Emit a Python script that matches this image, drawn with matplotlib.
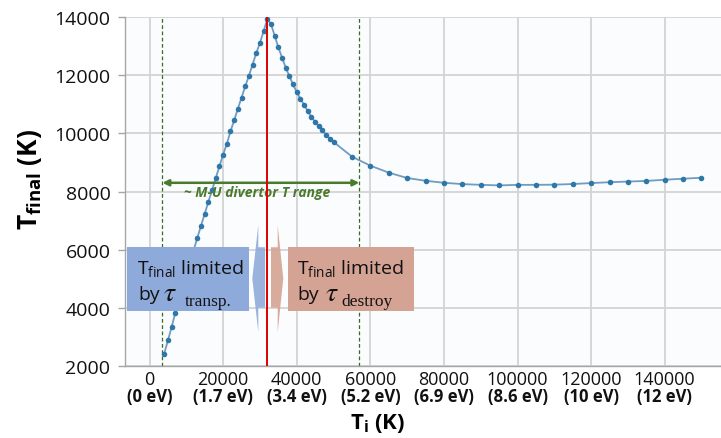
import matplotlib
matplotlib.use("Agg")
import matplotlib.pyplot as plt
from matplotlib.patches import Rectangle, Polygon
from matplotlib.transforms import blended_transform_factory

plt.rcParams["font.family"] = ["Open Sans", "DejaVu Sans"]
plt.rcParams["mathtext.fontset"] = "custom"
plt.rcParams["mathtext.rm"] = "Open Sans"
plt.rcParams["mathtext.it"] = "Open Sans:italic"
plt.rcParams["mathtext.bf"] = "Open Sans:bold"

# Initial ion temperature (K) and resulting final temperature (K)
ti_rise = [4000, 5000, 6000, 7000, 8000, 9000, 10000, 11000, 12000, 13000,
           14000, 15000, 16000, 17000, 18000, 19000, 20000, 21000, 22000,
           23000, 24000, 25000, 26000, 27000, 28000, 29000, 30000, 31000, 32000]
tf_rise = [2420, 2870, 3330, 3820, 4250, 4680, 5110, 5540, 5980, 6410,
           6825, 7237, 7649, 8050, 8460, 8871, 9273, 9640, 10073,
           10450, 10852, 11230, 11618, 11985, 12373, 12764, 13118, 13519, 13940]

ti_fall = [33000, 34000, 35000, 36000, 37000, 38000, 39000, 40000, 41000,
           42000, 43000, 44000, 45000, 46000, 47000, 48000, 49000, 50000]
tf_fall = [13770, 13368, 12970, 12613, 12270, 11974, 11686, 11425, 11195,
           10989, 10759, 10567, 10395, 10244, 10107, 9959, 9822, 9709]

ti_tail = [55000, 60000, 65000, 70000, 75000, 80000, 85000, 90000, 95000, 100000,
           105000, 110000, 115000, 120000, 125000, 130000, 135000, 140000, 145000, 150000]
tf_tail = [9200, 8890, 8650, 8465, 8370, 8300, 8255, 8230, 8210, 8228,
           8230, 8235, 8258, 8290, 8320, 8342, 8364, 8405, 8440, 8475]

x_ticks = [0, 20000, 40000, 60000, 80000, 100000, 120000, 140000]
x_tick_labels = ["0", "20000", "40000", "60000", "80000", "100000", "120000", "140000"]
ev_labels = ["(0 eV)", "(1.7 eV)", "(3.4 eV)", "(5.2 eV)", "(6.9 eV)",
             "(8.6 eV)", "(10 eV)", "(12 eV)"]
y_ticks = [2000, 4000, 6000, 8000, 10000, 12000, 14000]

peak_ti = 32000          # temperature of maximum final temperature
divertor_range = [3500, 57000]
divertor_level = 8300

ti = ti_rise + ti_fall + ti_tail
tf = tf_rise + tf_fall + tf_tail

fig = plt.figure(figsize=(7.21, 4.39), dpi=100)
ax = fig.add_axes([0.1734, 0.1647, 0.8266, 0.7936])
ax.set_facecolor("#fbfcfe")

ax.set_xlim(-6660, 155300)
ax.set_ylim(2000, 14000)

ax.grid(True, color="#d4d4d4", linewidth=1.3, zorder=0)
ax.set_axisbelow(True)

for s in ["top", "right"]:
    ax.spines[s].set_visible(False)
ax.spines["left"].set_color("#a6a6a6")
ax.spines["bottom"].set_color("#a6a6a6")
ax.spines["left"].set_linewidth(1.0)
ax.spines["bottom"].set_linewidth(1.0)

ax.set_xticks(x_ticks)
ax.set_xticklabels(x_tick_labels)
ax.set_yticks(y_ticks)
ax.set_yticklabels([str(v) for v in y_ticks])
ax.tick_params(axis="x", length=0, pad=3, labelsize=13, labelcolor="#111111")
ax.tick_params(axis="y", length=5, width=1.0, color="#a6a6a6", pad=5.5,
               labelsize=14, labelcolor="#111111")

trans_x = blended_transform_factory(ax.transData, ax.transAxes)
for xv, lab in zip(x_ticks, ev_labels):
    ax.text(xv, -0.088, lab, transform=trans_x, ha="center", va="center",
            fontsize=12, fontweight="bold", color="#111111")

# data curve
ax.plot(ti, tf, color="#6f9cc2", linewidth=1.3, zorder=3)
ax.plot(ti, tf, linestyle="none", marker="o", markersize=4.0,
        color="#2f77a8", markeredgewidth=0, zorder=4)

# divertor temperature range
green = "#4a7a2b"
for xv in divertor_range:
    ax.axvline(xv, color="#3b6b22", linewidth=0.9, linestyle=(0, (3, 2)), zorder=2)
ax.annotate("", xy=(divertor_range[0], divertor_level),
            xytext=(divertor_range[1], divertor_level),
            arrowprops=dict(arrowstyle="<|-|>", color=green, lw=1.8,
                            mutation_scale=9, shrinkA=0, shrinkB=0), zorder=6)
ax.text(29300, 7975, "~ M-U divertor T range", color=green, fontsize=10,
        fontweight="bold", fontstyle="italic", ha="center", va="center", zorder=6)

# regime boxes and arrows
blue = "#8eaadb"
pink = "#d5a393"
ax.add_patch(Rectangle((-6110, 3900), 26900 + 6110, 6080 - 3900,
                       facecolor=blue, edgecolor="none", zorder=5))
ax.add_patch(Rectangle((37550, 3900), 71870 - 37550, 6080 - 3900,
                       facecolor=pink, edgecolor="none", zorder=5))
ax.add_patch(Polygon([(27930, 5000), (29560, 6850), (29560, 6080), (31380, 6080),
                      (31380, 4000), (29560, 4000), (29560, 3150)],
                     closed=True, facecolor=blue, edgecolor="none", alpha=0.9, zorder=5))
ax.add_patch(Polygon([(36350, 5000), (34830, 6850), (34830, 6080), (33010, 6080),
                      (33010, 4000), (34830, 4000), (34830, 3150)],
                     closed=True, facecolor=pink, edgecolor="none", alpha=0.9, zorder=5))

ax.axvline(peak_ti, color="#e00000", linewidth=1.4, zorder=7)

txt_kw = dict(color="#111111", ha="left", va="baseline", zorder=8)
for x0, sub_x, tau_x, x_by, sub in [(-3478, 9645, 3668, -3125, "transp."),
                                    (39994, 52220, 47683, 40157, "destroy")]:
    ax.text(x0, 5186, r"T$_{\mathrm{final}}$ limited", fontsize=14, **txt_kw)
    ax.text(x_by, 4300, "by", fontsize=14, **txt_kw)
    ax.text(tau_x, 4266, r"$\tau$", fontsize=20, math_fontfamily="stix", **txt_kw)
    ax.text(sub_x, 4084, sub, fontsize=12.5, family="Liberation Serif", **txt_kw)

# axis titles
fig.text(30 / 721, 1 - 179 / 439, r"T$_{\mathbf{final}}$ (K)", rotation=90,
         fontsize=19, fontweight="bold", ha="center", va="center")
fig.text(378 / 721, 1 - 424 / 439, r"T$_{\mathbf{i}}$ (K)",
         fontsize=16, fontweight="bold", ha="center", va="center")

fig.savefig("out.png", dpi=100)
